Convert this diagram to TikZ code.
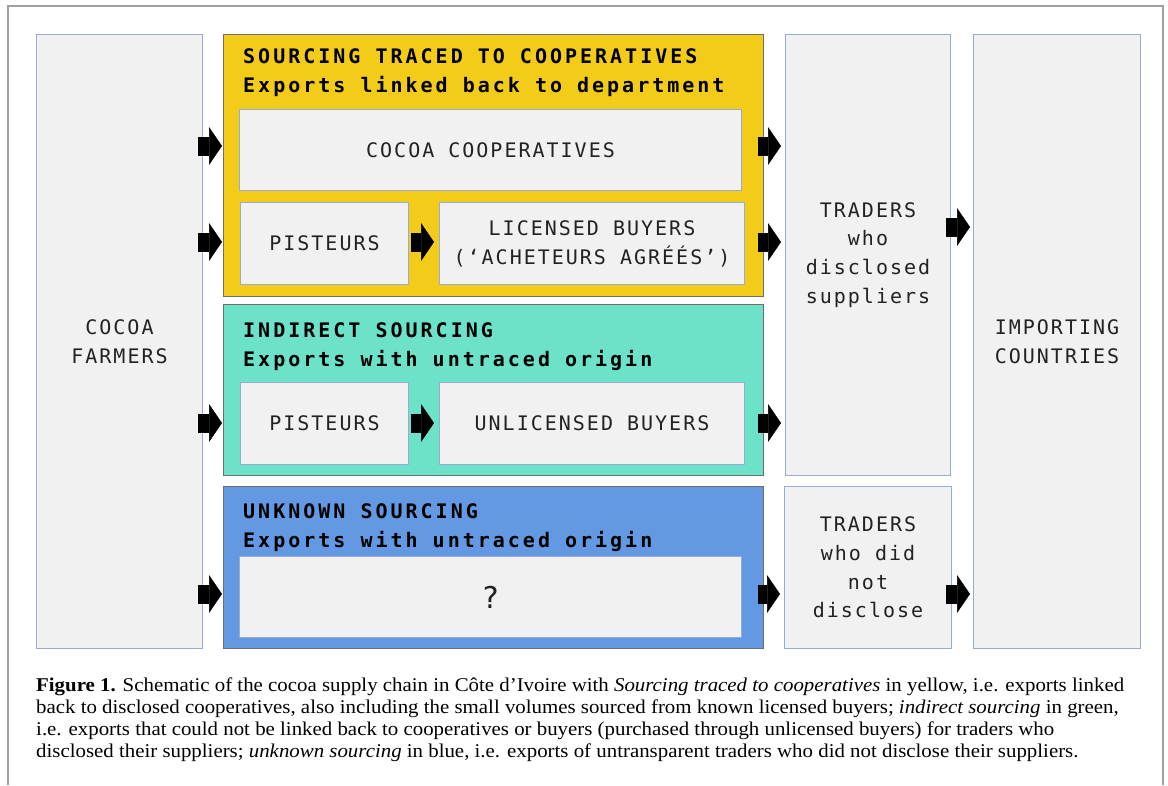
\documentclass[tikz,border=0pt]{standalone}
\usepackage{fontspec}
\setmainfont[FakeStretch=1.07]{Liberation Serif}
\newfontfamily\labfont[LetterSpace=10]{DejaVu Sans Mono}
\newfontfamily\titlefont[LetterSpace=15]{DejaVu Sans Mono}
\usetikzlibrary{arrows.meta,calc}
\definecolor{cyellow}{RGB}{242,204,24}
\definecolor{cgreen}{RGB}{108,227,201}
\definecolor{cblue}{RGB}{99,153,226}
\definecolor{boxfill}{RGB}{241,241,241}
\definecolor{boxline}{RGB}{150,172,212}
\definecolor{frameline}{RGB}{160,160,160}
\definecolor{labtext}{RGB}{34,34,34}
\definecolor{grpline}{RGB}{110,110,110}
\tikzset{
  box/.style={draw=boxline, fill=boxfill, line width=1pt, inner sep=0pt,
    anchor=north west, align=center, text=labtext,
    font=\labfont\fontsize{20}{29}\selectfont},
  grp/.style={draw=grpline, line width=1pt, inner sep=0pt, anchor=north west},
  grptitle/.style={anchor=base west, inner sep=0pt, text=black,
    font=\titlefont\bfseries\fontsize{20}{29}\selectfont},
  capline/.style={anchor=base west, inner sep=0pt, font=\fontsize{19.5}{22}\selectfont},
  barrow/.style={draw=black, line width=19pt,
    -{Triangle[length=13pt,width=38pt,line width=0.5pt]}},
}
\begin{document}
\begin{tikzpicture}[x=1pt,y=-1pt]
\useasboundingbox (0,0) rectangle (1168,785);
\draw[frameline, line width=1.2pt] (8,785) -- (8,6) -- (1163,6) -- (1163,785);

% outer columns
\node[box, minimum width=166pt, minimum height=614pt] (farmers) at (36,34) {COCOA\\FARMERS};
\node[box, minimum width=165pt, minimum height=441pt, font=\labfont\fontsize{20}{28.7}\selectfont] (tradD) at (785,34) {TRADERS\\who\\disclosed\\suppliers};
\node[box, minimum width=167pt, minimum height=162pt, font=\labfont\fontsize{20}{28.7}\selectfont] (tradN) at (784,486) {TRADERS\\who did\\not\\disclose};
\node[box, minimum width=167pt, minimum height=614pt] (imp) at (973,34) {IMPORTING\\COUNTRIES};

% group boxes
\node[grp, fill=cyellow, minimum width=540pt, minimum height=262pt] (ybox) at (223,34) {};
\node[grp, fill=cgreen, minimum width=540pt, minimum height=171pt] (gbox) at (223,304) {};
\node[grp, fill=cblue, minimum width=540pt, minimum height=162pt] (bbox) at (223,486) {};

\node[grptitle] (ytA) at (243,63) {SOURCING TRACED TO COOPERATIVES};
\node[grptitle] (ytB) at (243,92) {Exports linked back to department};
\node[grptitle] (gtA) at (243,337) {INDIRECT SOURCING};
\node[grptitle] (gtB) at (243,366) {Exports with untraced origin};
\node[grptitle] (btA) at (243,518) {UNKNOWN SOURCING};
\node[grptitle] (btB) at (243,547) {Exports with untraced origin};

% inner boxes
\node[box, minimum width=502pt, minimum height=81pt] (coop) at (239,109) {COCOA COOPERATIVES};
\node[box, minimum width=168pt, minimum height=82pt] (pisY) at (240,202) {PISTEURS};
\node[box, minimum width=305pt, minimum height=82pt] (lic) at (439,202) {LICENSED BUYERS\\(‘ACHETEURS AGRÉÉS’)};
\node[box, minimum width=168pt, minimum height=82pt] (pisG) at (240,382) {PISTEURS};
\node[box, minimum width=305pt, minimum height=82pt] (unlic) at (439,382) {UNLICENSED BUYERS};
\node[box, minimum width=502pt, minimum height=81pt, font=\labfont\fontsize{30}{30}\selectfont] (quest) at (239,556) {?};

% row coordinates
\coordinate (r1) at (0,146);
\coordinate (r2) at (0,242);
\coordinate (r3) at (0,423);
\coordinate (r4) at (0,594);
\coordinate (r5) at (0,227);

% arrows
\draw[barrow] ($(farmers.east |- r1)+(-5,0)$) -- ($(ybox.west |- r1)+(-1,0)$);
\draw[barrow] ($(farmers.east |- r2)+(-5,0)$) -- ($(ybox.west |- r2)+(-1,0)$);
\draw[barrow] ($(farmers.east |- r3)+(-5,0)$) -- ($(gbox.west |- r3)+(-1,0)$);
\draw[barrow] ($(farmers.east |- r4)+(-5,0)$) -- ($(bbox.west |- r4)+(-1,0)$);
\draw[barrow] ($(pisY.east |- r2)+(2,0)$) -- ($(lic.west |- r2)+(-5,0)$);
\draw[barrow] ($(pisG.east |- r3)+(2,0)$) -- ($(unlic.west |- r3)+(-5,0)$);
\draw[barrow] ($(ybox.east |- r1)+(-6,0)$) -- ($(tradD.west |- r1)+(-4,0)$);
\draw[barrow] ($(ybox.east |- r2)+(-6,0)$) -- ($(tradD.west |- r2)+(-4,0)$);
\draw[barrow] ($(gbox.east |- r3)+(-6,0)$) -- ($(tradD.west |- r3)+(-4,0)$);
\draw[barrow] ($(bbox.east |- r4)+(-6,0)$) -- ($(tradN.west |- r4)+(-4,0)$);
\draw[barrow] ($(tradD.east |- r5)+(-5,0)$) -- ($(imp.west |- r5)+(-3,0)$);
\draw[barrow] ($(tradN.east |- r4)+(-6,0)$) -- ($(imp.west |- r4)+(-3,0)$);

% caption
\node[capline] (cap1) at (36,691) {\textbf{Figure 1.} Schematic of the cocoa supply chain in Côte d’Ivoire with \textit{Sourcing traced to cooperatives} in yellow, i.e. exports linked};
\node[capline] (cap2) at (36,713) {back to disclosed cooperatives, also including the small volumes sourced from known licensed buyers; \textit{indirect sourcing} in green,};
\node[capline] (cap3) at (36,735) {i.e. exports that could not be linked back to cooperatives or buyers (purchased through unlicensed buyers) for traders who};
\node[capline] (cap4) at (36,757) {disclosed their suppliers; \textit{unknown sourcing} in blue, i.e. exports of untransparent traders who did not disclose their suppliers.};
\end{tikzpicture}
\end{document}
